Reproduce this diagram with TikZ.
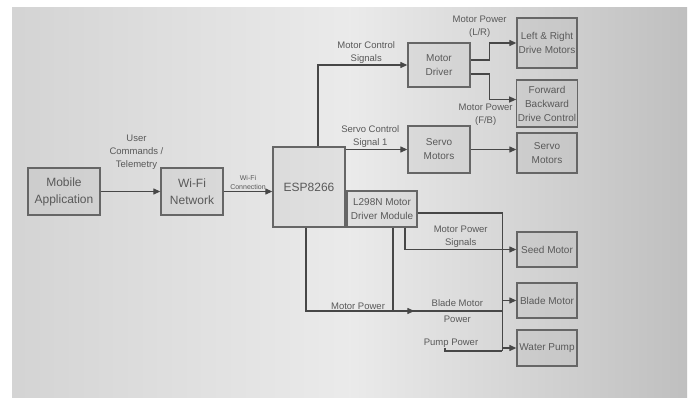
\documentclass[tikz,border=0pt]{standalone}
\usepackage{fontspec}
\setmainfont{Liberation Sans}
\usetikzlibrary{positioning, arrows.meta, calc}

\begin{document}
\begin{tikzpicture}[
    x=1pt, y=-1pt,
    >={Triangle[length=7pt, width=6pt]},
    on grid,
    blk/.style={
        draw=black!60,
        line width=1.3pt,
        fill=black!45,
        fill opacity=0.1,
        text opacity=1,
        draw opacity=1,
        align=center,
        inner sep=1pt,
        text=black!65,
        font=\fontsize{10}{14}\selectfont
    },
    big/.style={font=\fontsize{12}{17}\selectfont},
    lbl/.style={
        align=center,
        inner sep=1pt,
        text=black!65,
        font=\fontsize{9.5}{13}\selectfont
    },
    wire/.style={draw=black!72, line width=1.2pt}
]
% background
\fill[white] (0,0) rectangle (694,399);
\shade[left color=black!17, right color=black!25, middle color=black!8] (12,7) rectangle (687,397);
\useasboundingbox (0,0) rectangle (694,399);

% blocks
\node[blk, big, minimum width=72pt, minimum height=47pt] (mob) at (64,191.5) {Mobile\\Application};
\node[blk, big, minimum width=62pt, minimum height=47pt, right=128pt of mob] (wifi) {Wi-Fi\\Network};
\node[blk, big, minimum width=72pt, minimum height=80pt, above right=4.5pt and 117pt of wifi] (esp) {ESP8266};
\node[blk, minimum width=70pt, minimum height=36pt, below right=22pt and 73pt of esp] (l298) {L298N Motor\\Driver Module};
\node[blk, minimum width=62pt, minimum height=44pt, above right=122pt and 130pt of esp] (mdrv) {Motor\\Driver};
\node[blk, minimum width=62pt, minimum height=47pt, below=84.5pt of mdrv] (servo) {Servo\\Motors};
\node[blk, minimum width=60pt, minimum height=50pt, above right=22pt and 108pt of mdrv] (lr) {Left \& Right\\Drive Motors};
\node[blk, minimum width=60pt, minimum height=47pt, below=60.5pt of lr] (fb) {Forward\\Backward\\Drive Control};
\node[blk, minimum width=60pt, minimum height=40pt, below=49.5pt of fb] (srvr) {Servo\\Motors};
\node[blk, minimum width=60pt, minimum height=35pt, below=96.5pt of srvr] (seed) {Seed Motor};
\node[blk, minimum width=60pt, minimum height=35pt, below=51pt of seed] (blade) {Blade Motor};
\node[blk, minimum width=60pt, minimum height=36pt, below=47.5pt of blade] (pump) {Water Pump};
\node[lbl, above left=5pt and 96pt of pump] (pp) {Pump Power};

% links
\draw[wire, ->] (mob) -- node[lbl, pos=0.6, above=20pt] {User\\Commands /\\Telemetry} (wifi);
\draw[wire, ->] (wifi) -- node[lbl, above, font=\fontsize{7}{9}\selectfont] {Wi-Fi\\Connection} (wifi -| esp.west);
\draw[wire, ->] ([xshift=9pt]esp.north) |- node[lbl, pos=0.77, above] {Motor Control\\Signals} (mdrv);
\draw[wire, ->] (esp.east |- servo) -- node[lbl, pos=0.4, above] {Servo Control\\Signal 1} (servo);
\draw[wire, ->] ([yshift=5pt]mdrv.east) -- ++(19,0) |- node[lbl, pos=0.5, above=4pt, xshift=-10pt] {Motor Power\\(L/R)} (lr);
\draw[wire, ->] ([yshift=-9pt]mdrv.east) -- ++(19,0) |- node[lbl, pos=0.5, below=3pt, xshift=-4pt] {Motor Power\\(F/B)} ([yshift=4pt]fb.west);
\draw[wire, ->] (servo.east) -- (servo.east -| srvr.west);

% power side
\draw[wire, ->] ([xshift=23pt]l298.south) |- node[lbl, pos=0.75, above] {Motor Power\\Signals} (seed);
\coordinate (pb) at ($(pump.west)+(-14,3)$);
\coordinate (mp) at ($(blade.west -| pb)+(0,10.5)$);
\draw[wire] ([yshift=-4pt]l298.east) -| (pb);
\draw[wire, ->] (blade.west -| pb) -- (blade);
\draw[wire, ->] (pump.west -| pb) -- (pump);
\draw[wire, ->] ([xshift=-3pt]esp.south) |- node[lbl, pos=0.74, above] {Motor Power} ($(mp)+(-88,0)$);
\draw[wire] ($(mp)+(-90,0)$) -- node[lbl, pos=0.5, font=\fontsize{9.5}{16}\selectfont] {Blade Motor\\Power} (mp);
\draw[wire] ($(l298.south)+(11,0)$) -- ($(l298.south |- mp)+(11,0)$);
\draw[wire] ($(pp.south)+(-6,0)$) |- (pb);
\end{tikzpicture}
\end{document}
